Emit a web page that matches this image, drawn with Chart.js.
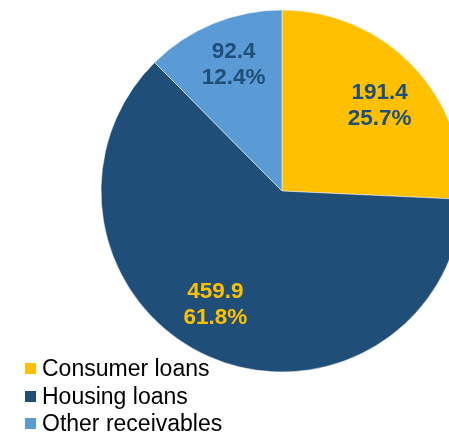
<!DOCTYPE html>
<html>
<head>
<meta charset="utf-8">
<script src="https://cdn.jsdelivr.net/npm/chart.js@4/dist/chart.umd.min.js"></script>
<style>
  html, body { margin: 0; padding: 0; background: #fff; overflow: hidden; }
  body { width: 449px; height: 434px; position: relative; }
  #pie { position: absolute; left: 0; top: 0; }
  #legend { position: absolute; left: 25px; top: 355px; font-family: "Liberation Sans", Arial, sans-serif; font-size: 23px; color: #000; }
  .item { height: 27.5px; line-height: 27px; display: flex; align-items: center; }
  .box { width: 11px; height: 11px; margin-right: 6px; }
</style>
</head>
<body>
<canvas id="pie" width="564" height="382"></canvas>
<div id="legend"></div>
<script>
const categories = ["Consumer loans", "Housing loans", "Other receivables"];
const amounts = [191.4, 459.9, 92.4];
const shares = ["25.7%", "61.8%", "12.4%"];
const sliceColors = ["#FFC000", "#1F4E79", "#5B9BD5"];
const labelColors = ["#1F4E79", "#FFC000", "#1F4E79"];
// small nudges so labels sit like the best-fit placement
const labelNudge = [[2, 6], [-13, -7], [2, -4]];

// value + share label inside each slice
const sliceLabels = {
  id: "sliceLabels",
  afterDatasetsDraw(chart) {
    const ctx = chart.ctx;
    const meta = chart.getDatasetMeta(0);
    ctx.save();
    ctx.font = "bold 22.5px 'Liberation Sans', Arial, sans-serif";
    ctx.textAlign = "center";
    ctx.textBaseline = "middle";
    meta.data.forEach((arc, i) => {
      const mid = (arc.startAngle + arc.endAngle) / 2;
      const r = arc.outerRadius * 0.73;
      const x = arc.x + Math.cos(mid) * r + labelNudge[i][0];
      const y = arc.y + Math.sin(mid) * r + labelNudge[i][1];
      ctx.fillStyle = labelColors[i];
      ctx.fillText(amounts[i].toFixed(1), x, y - 13);
      ctx.fillText(shares[i], x, y + 13);
    });
    ctx.restore();
  }
};

new Chart(document.getElementById("pie").getContext("2d"), {
  type: "pie",
  data: {
    labels: categories,
    datasets: [{
      data: amounts,
      backgroundColor: sliceColors,
      borderColor: "#ffffff",
      borderWidth: 0.5,
      hoverOffset: 0
    }]
  },
  options: {
    responsive: false,
    animation: false,
    radius: 181,
    layout: { padding: 0 },
    plugins: {
      legend: { display: false },
      tooltip: { enabled: false }
    }
  },
  plugins: [sliceLabels]
});

const legend = document.getElementById("legend");
categories.forEach((name, i) => {
  const row = document.createElement("div");
  row.className = "item";
  const box = document.createElement("span");
  box.className = "box";
  box.style.background = sliceColors[i];
  const txt = document.createElement("span");
  txt.textContent = name;
  row.append(box, txt);
  legend.append(row);
});
</script>
</body>
</html>
